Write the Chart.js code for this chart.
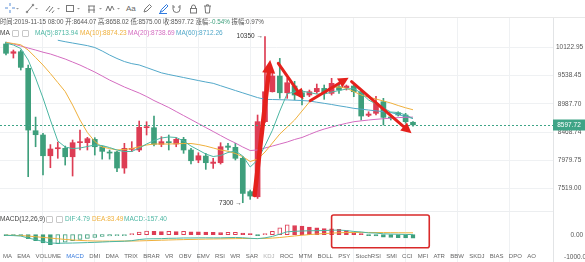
<!DOCTYPE html>
<html lang="zh-CN">
<head>
<meta charset="UTF-8">
<title>K线 MA / MACD</title>
<script src="https://cdn.jsdelivr.net/npm/chart.js"></script>
<style>
  html, body { margin: 0; padding: 0; background: #fff; }
  body { position: relative; width: 585px; height: 262px; overflow: hidden;
         font-family: "Liberation Sans", "Noto Sans CJK SC", sans-serif; color: #444; }
  canvas { position: absolute; left: 0; }
  #kline { top: 18px; }
  #macd { top: 212px; }
  .row { position: absolute; white-space: nowrap; line-height: 8px; }
  .row span { position: absolute; top: 0; }
  .ico { display: inline-block; width: 5px; height: 5px; border: 1px solid #c8c8c8; border-radius: 1px; }
  #toolbar { position: absolute; left: 0; top: 0; width: 585px; height: 17px; border-bottom: 1px solid #e8e8e8; }
  #sep { position: absolute; left: 0; top: 211px; width: 553px; height: 1px; background: #eceef0; }
  #tabs { left: 3px; top: 252px; font-size: 6px; color: #666; }
  #tabs b { font-weight: normal; margin-right: 5.3px; }
</style>
</head>
<body>
<canvas id="kline" width="585" height="194"></canvas>
<canvas id="macd" width="585" height="50"></canvas>
<div id="sep"></div>

<div id="toolbar">
  <svg width="230" height="17" fill="none" stroke="#777" stroke-width="1">
    <path d="M10 3v3M10 10v3M5 8h3M12 8h3" stroke="#5b8fd6"/>
    <path d="M16 8h3l-1.5 1.6z" fill="#999" stroke="none"/>
    <path d="M27 12l6-7"/><circle cx="27" cy="12" r="0.8"/><circle cx="33" cy="5" r="0.8"/>
    <path d="M35 8h3l-1.5 1.6z" fill="#999" stroke="none"/>
    <path d="M46 11l4-5M49 12l4-5M52 13l2-2.5"/>
    <path d="M57 8h3l-1.5 1.6z" fill="#999" stroke="none"/>
    <rect x="66.5" y="5.5" width="7" height="6"/>
    <path d="M77 8h3l-1.5 1.6z" fill="#999" stroke="none"/>
    <path d="M88 6h7M89 6v7M94 6v7M88 10h7"/>
    <path d="M99 8h3l-1.5 1.6z" fill="#999" stroke="none"/>
    <path d="M106 11l2-5 2 5 2-5 2 4"/>
    <path d="M117 8h3l-1.5 1.6z" fill="#999" stroke="none"/>
    <text x="126" y="11" font-size="8" fill="#666" stroke="none">Aa</text>
    <path d="M144 12l1-3 4.5-4.5 2 2L147 11z"/>
    <path d="M160 12.5l1.5-3 5-5 1.5 1.5-5 5z M159 13.5h8" stroke="#2f7be0"/>
    <path d="M173 5v4a3.5 3.5 0 0 0 7 0V5M173 7h2M178 7h2"/>
    <rect x="190.5" y="8.5" width="6" height="4.5"/><path d="M191.5 8.5V7a2 2 0 0 1 4 0v1.5"/>
    <path d="M204 6h7M205 6l.6 7h3.8l.6-7M206.5 6V4.8h2V6"/>
  </svg>
</div>

<div class="row" style="left:0;top:18px;font-size:6.3px;color:#555">
  时间:2019-11-15 08:00 开:8644.07 高:8658.02 低:8575.00 收:8597.72 涨幅:<span style="position:static;color:#3e9f7c">-0.54%</span> 振幅:0.97%
</div>
<div class="row" id="maLegend" style="left:0;top:29px;font-size:6.5px"></div>
<div class="row" id="macdLegend" style="left:0;top:215px;font-size:6.5px"></div>
<div class="row" id="tabs"></div>

<script>
// ---- candles (4h), oldest first ----
const opens  = [10189, 9992, 10025, 9681, 8492, 8416, 8057, 8177, 8184, 8040,
                8281, 8281, 8340, 8211, 8120, 8120, 7852, 8166, 8155, 8546,
                8546, 8253, 8299, 8258, 8340, 8155, 7985, 8052, 7929, 7940,
                8223, 8201, 8014, 7472, 7392, 8655, 9217, 9526, 9197, 9328,
                9198, 9153, 9217, 9282, 9185, 9315, 9295, 9328, 9217, 8771,
                8808, 9026, 8740, 8819, 8777, 8644.07];
const highs  = [10231, 10061, 10061, 9748, 8739, 8446, 8248, 8293, 8223, 8328,
                8504, 8375, 8369, 8223, 8155, 8132, 8270, 8299, 8667, 8654,
                8758, 8386, 8416, 8369, 8375, 8184, 8108, 8098, 8014, 8281,
                8270, 8270, 8041, 7497, 8777, 10350, 9586, 9886, 9480, 9420,
                9250, 9250, 9367, 9348, 9480, 9381, 9348, 9381, 9250, 8837,
                9128, 9090, 8777, 8837, 8808, 8658.02];
const lows   = [9956, 9893, 9647, 7710, 8211, 7738, 7857, 8014, 7901, 7721,
                8155, 8155, 8069, 8000, 8000, 7791, 7765, 8126, 8126, 8416,
                8223, 8211, 8155, 8211, 8098, 7918, 7940, 7830, 7846, 7918,
                8155, 7985, 7300, 7352, 7366, 8640, 9211, 9090, 9090, 9058,
                8963, 9121, 9185, 9071, 9153, 9185, 9250, 9121, 8685, 8746,
                8777, 8594, 8685, 8758, 8625, 8575.00];
const closes = [9992, 10025, 9701, 8504, 8421, 8057, 8172, 8194, 8040, 8281,
                8298, 8351, 8211, 8132, 8103, 7852, 8184, 8184, 8553, 8564,
                8253, 8299, 8281, 8340, 8155, 7973, 8057, 7940, 7951, 8211,
                8201, 8014, 7444, 7403, 8655, 9217, 9526, 9197, 9393, 9153,
                9121, 9217, 9282, 9185, 9381, 9250, 9328, 9217, 8758, 8795,
                8995, 8734, 8722, 8777, 8655, 8597.72];

// ---- moving averages as drawn ----
const ma5  = [10210, 10167, 10093, 9852, 9486, 9096, 8685, 8311, 8206, 8180,
              8189, 8215, 8241, 8232, 8197, 8155, 8129, 8129, 8189, 8258,
              8319, 8363, 8381, 8372, 8311, 8223, 8155, 8086, 8044, 8061,
              8112, 8138, 8052, 7869, 7985, 8230, 8500, 8850, 9180, 9211,
              9230, 9201, 9172, 9172, 9211, 9240, 9269, 9279, 9192, 9058,
              8982, 8907, 8832, 8823, 8777, 8713.94];
const ma10 = [10221, 10199, 10172, 10061, 9904, 9748, 9576, 9397, 9220, 8963,
              8685, 8460, 8302, 8206, 8180, 8155, 8163, 8180, 8211, 8241,
              8258, 8258, 8258, 8262, 8267, 8267, 8249, 8223, 8189, 8155,
              8133, 8095, 8041, 7960, 8000, 8120, 8275, 8433, 8558, 8685,
              8851, 9020, 9134, 9220, 9299, 9309, 9284, 9220, 9153, 9115,
              9077, 9039, 9001, 8954, 8911, 8874.23];
const ma20 = [10221, 10189, 10146, 10103, 10061, 10015, 9977, 9925, 9872, 9810,
              9748, 9677, 9606, 9526, 9446, 9377, 9309, 9250, 9192, 9124,
              9048, 8982, 8916, 8841, 8767, 8694, 8621, 8549, 8478, 8407,
              8337, 8275, 8206, 8146, 8155, 8189, 8223, 8258, 8293, 8337,
              8372, 8425, 8478, 8522, 8558, 8594, 8625, 8654, 8670, 8685,
              8698, 8709, 8718, 8729, 8735, 8738.69];
const ma60 = [null, null, null, null, null, null, null, 10270, 10238, 10210,
              10182, 10154, 10114, 10040, 9956, 9883, 9820, 9777, 9750, 9697,
              9643, 9590, 9556, 9526, 9496, 9466, 9436, 9407, 9381, 9334,
              9287, 9240, 9195, 9149, 9104, 9071, 9067, 9064, 9060, 9054,
              9048, 9039, 9016, 8995, 8973, 8948, 8926, 8901, 8886, 8869,
              8854, 8839, 8823, 8786, 8749, 8712.26];

// ---- MACD(12,26,9) ----
const macdHist = [-15, -20, -40, -180, -260, -360, -440, -400, -330, -270,
                  -210, -160, -120, -80, -50, -35, -20, 30, 120, 160,
                  150, 140, 150, 140, 145, 130, 125, 115, 100, 90,
                  100, 105, 70, 20, -10, 50, 150, 300, 440, 410,
                  380, 340, 300, 270, 260, 240, 180, 90, 40, -40,
                  -50, -110, -125, -135, -145, -157.40];
const dif = [-30, -40, -60, -150, -220, -300, -370, -380, -375, -370,
             -360, -350, -340, -325, -310, -300, -290, -265, -215, -185,
             -180, -175, -160, -155, -145, -145, -140, -137.5, -140, -140,
             -130, -122.5, -135, -160, -175, -140, -75, 25, 130, 150,
             165, 175, 180, 185, 200, 205, 185, 145, 122, 80,
             72, 40, 28, 20, 12, 4.79];
const dea = [-22.5, -30, -40, -60, -90, -120, -150, -180, -210, -235,
             -255, -270, -280, -285, -285, -282.5, -280, -280, -275, -265,
             -255, -245, -235, -225, -217.5, -210, -202.5, -195, -190, -185,
             -180, -175, -170, -170, -170, -165, -150, -125, -90, -55,
             -25, 5, 30, 50, 70, 85, 95, 100, 102, 100,
             97, 95, 90.5, 87.5, 84.5, 83.49];

const priceTicks = [10122.95, 9538.45, 8987.70, 8468.74, 7979.75, 7519.00];
const macdTicks = [0, -1000];
const gridIndex = [5, 12, 19, 26, 33, 40, 47, 54, 61, 68];
const lastPrice = 8597.72;
const indicatorTabs = ['MA', 'EMA', 'VOLUME', 'MACD', 'DMI', 'DMA', 'TRIX', 'BRAR', 'VR', 'OBV',
                       'EMV', 'RSI', 'WR', 'SAR', 'KDJ', 'ROC', 'MTM', 'BOLL', 'PSY', 'StochRSI',
                       'SMI', 'CCI', 'MFI', 'ATR', 'BBW', 'SKDJ', 'BIAS', 'DPO', 'AO'];

// hand drawn arrows on the price pane: [fromIndex, fromPrice, toIndex, toPrice]
const trendArrows = [[33.6, 7419, 35.7, 9852],
                     [36.8, 9784, 40.2, 9071],
                     [41.1, 9045, 46.3, 9492],
                     [46.7, 9413, 54.8, 8446]];
// red box on the MACD pane: [fromIndex, toIndex, topValue, bottomValue]
const macdBox = [44.0, 57.2, 875, -577];

const UP = '#dd3d54', DOWN = '#3e9f7c';
const C5 = '#4bb6a2', C10 = '#efb03c', C20 = '#d46cc0', C60 = '#52a8c9';
const X_MIN = -0.81, X_MAX = 73.92;
const FONT = '"Liberation Sans", "Noto Sans CJK SC", sans-serif';
Chart.defaults.font.family = FONT;

const pts = arr => arr.map((v, i) => ({ x: i, y: v }));
const candleColor = closes.map((c, i) => (c >= opens[i] ? UP : DOWN));

function xScale(gridColor) {
  return {
    type: 'linear', min: X_MIN, max: X_MAX, offset: false,
    ticks: { display: false }, border: { display: false },
    grid: { color: gridColor, drawTicks: false, offset: false },
    afterBuildTicks: s => { s.ticks = gridIndex.map(v => ({ value: v })); },
    afterFit: s => { s.height = 0; s.paddingLeft = 0; s.paddingRight = 0; }
  };
}

function drawArrow(ctx, x1, y1, x2, y2, w) {
  const a = Math.atan2(y2 - y1, x2 - x1);
  const len = w * 1.8 + 5, half = w * 0.9 + 2.5;
  const bx = x2 - Math.cos(a) * len, by = y2 - Math.sin(a) * len;
  ctx.strokeStyle = ctx.fillStyle = '#e5211c';
  ctx.lineWidth = w;
  ctx.lineCap = 'round';
  ctx.beginPath(); ctx.moveTo(x1, y1); ctx.lineTo(bx, by); ctx.stroke();
  ctx.beginPath();
  ctx.moveTo(x2, y2);
  ctx.lineTo(bx + Math.sin(a) * half, by - Math.cos(a) * half);
  ctx.lineTo(bx - Math.sin(a) * half, by + Math.cos(a) * half);
  ctx.closePath(); ctx.fill();
}

const klineMarks = {
  id: 'klineMarks',
  afterDatasetsDraw(chart) {
    const { ctx, chartArea, scales: { x, y } } = chart;
    ctx.save();
    // last price dashed line
    const py = Math.round(y.getPixelForValue(lastPrice)) + 0.5;
    ctx.strokeStyle = '#3ea486';
    ctx.lineWidth = 1;
    ctx.setLineDash([2, 2]);
    ctx.beginPath(); ctx.moveTo(chartArea.left, py); ctx.lineTo(chartArea.right, py); ctx.stroke();
    ctx.setLineDash([]);

    // highest / lowest markers
    const hi = highs.indexOf(Math.max(...highs));
    const lo = lows.indexOf(Math.min(...lows));
    ctx.font = '6.5px ' + FONT;
    ctx.fillStyle = '#333';
    ctx.textAlign = 'right';
    ctx.textBaseline = 'middle';
    ctx.fillText(highs[hi] + ' \u2192', x.getPixelForValue(hi) - 2, y.getPixelForValue(highs[hi]));
    ctx.fillText(lows[lo] + ' \u2192', x.getPixelForValue(lo) - 1, y.getPixelForValue(lows[lo]));

    trendArrows.forEach((a, k) => {
      drawArrow(ctx, x.getPixelForValue(a[0]), y.getPixelForValue(a[1]),
                x.getPixelForValue(a[2]), y.getPixelForValue(a[3]), k === 0 ? 4.5 : 3);
    });
    ctx.restore();
  },
  afterDraw(chart) {
    const { ctx, chartArea, scales: { y } } = chart;
    const py = y.getPixelForValue(lastPrice);
    ctx.save();
    ctx.fillStyle = '#3ea486';
    ctx.fillRect(chartArea.right, Math.round(py) - 5.5, 32, 11);
    ctx.fillStyle = '#fff';
    ctx.font = '6.5px ' + FONT;
    ctx.textAlign = 'center';
    ctx.textBaseline = 'middle';
    ctx.fillText(lastPrice.toFixed(2), chartArea.right + 16, py + 0.5);
    ctx.restore();
  }
};

new Chart(document.getElementById('kline'), {
  type: 'bar',
  data: {
    datasets: [
      { type: 'line', data: pts(ma5), borderColor: C5, borderWidth: 1, pointRadius: 0, order: 0 },
      { type: 'line', data: pts(ma10), borderColor: C10, borderWidth: 1, pointRadius: 0, order: 0 },
      { type: 'line', data: pts(ma20), borderColor: C20, borderWidth: 1, pointRadius: 0, order: 0 },
      { type: 'line', data: pts(ma60), borderColor: C60, borderWidth: 1, pointRadius: 0, order: 0 },
      { data: opens.map((o, i) => ({ x: i, y: [o, closes[i]] })), backgroundColor: candleColor,
        barThickness: 5, grouped: false, minBarLength: 1, borderWidth: 0, order: 1 },
      { data: lows.map((l, i) => ({ x: i, y: [l, highs[i]] })), backgroundColor: candleColor,
        barThickness: 1, grouped: false, borderWidth: 0, order: 2 }
    ]
  },
  options: {
    responsive: false, animation: false, events: [],
    layout: { padding: 0 },
    plugins: { legend: { display: false }, tooltip: { enabled: false } },
    scales: {
      x: xScale('#eff1f3'),
      y: {
        type: 'logarithmic', position: 'right', min: 7159, max: 10761, bounds: 'data',
        afterBuildTicks: s => { s.ticks = priceTicks.map(v => ({ value: v })); },
        ticks: { callback: v => Number(v).toFixed(2), color: '#555', font: { size: 6.5 },
                 padding: 3, crossAlign: 'center', autoSkip: false },
        grid: { color: '#eff1f3', drawTicks: false },
        border: { color: '#e2e4e6' },
        afterFit: s => { s.width = 32; s.paddingTop = 0; s.paddingBottom = 0; }
      }
    }
  },
  plugins: [klineMarks]
});

const macdMarks = {
  id: 'macdMarks',
  afterDatasetsDraw(chart) {
    const { ctx, scales: { x, y } } = chart;
    const x1 = x.getPixelForValue(macdBox[0]), x2 = x.getPixelForValue(macdBox[1]);
    const y1 = y.getPixelForValue(macdBox[2]), y2 = y.getPixelForValue(macdBox[3]);
    ctx.save();
    ctx.strokeStyle = '#d92a2a';
    ctx.lineWidth = 1.6;
    ctx.beginPath();
    ctx.roundRect(x1, y1, x2 - x1, y2 - y1, 2);
    ctx.stroke();
    ctx.restore();
  }
};

// hollow when the bar rises against the previous one, solid when it falls
const histColor = macdHist.map(v => (v >= 0 ? UP : DOWN));
const histFill = macdHist.map((v, i) => (v >= (i ? macdHist[i - 1] : 0) ? '#fff' : histColor[i]));

new Chart(document.getElementById('macd'), {
  type: 'bar',
  data: {
    datasets: [
      { type: 'line', data: pts(dif), borderColor: C5, borderWidth: 1, pointRadius: 0, order: 0 },
      { type: 'line', data: pts(dea), borderColor: C10, borderWidth: 1, pointRadius: 0, order: 0 },
      { data: pts(macdHist), backgroundColor: histFill, borderColor: histColor, borderWidth: 1,
        borderSkipped: false, barThickness: 4, grouped: false, minBarLength: 1, order: 1 }
    ]
  },
  options: {
    responsive: false, animation: false, events: [],
    layout: { padding: 0 },
    plugins: { legend: { display: false }, tooltip: { enabled: false } },
    scales: {
      x: xScale('#eff1f3'),
      y: {
        type: 'linear', position: 'right', min: -1213, max: 1009,
        afterBuildTicks: s => { s.ticks = macdTicks.map(v => ({ value: v })); },
        ticks: { callback: v => Number(v).toFixed(2), color: '#555', font: { size: 6.5 },
                 padding: 3, crossAlign: 'center', autoSkip: false },
        grid: { display: false },
        border: { color: '#e2e4e6' },
        afterFit: s => { s.width = 32; s.paddingTop = 0; s.paddingBottom = 0; }
      }
    }
  },
  plugins: [macdMarks]
});

// ---- legends and indicator tabs ----
const last = a => a[a.length - 1].toFixed(2);
document.getElementById('maLegend').innerHTML =
  '<span style="left:0;color:#444">MA</span>' +
  '<span class="ico" style="left:12px;top:1px"></span><span class="ico" style="left:22px;top:1px"></span>' +
  '<span style="left:35px;color:' + C5 + '">MA(5):' + last(ma5) + '</span>' +
  '<span style="left:80px;color:' + C10 + '">MA(10):' + last(ma10) + '</span>' +
  '<span style="left:128px;color:' + C20 + '">MA(20):' + last(ma20) + '</span>' +
  '<span style="left:176px;color:' + C60 + '">MA(60):' + last(ma60) + '</span>';
document.getElementById('macdLegend').innerHTML =
  '<span style="left:0;color:#444">MACD(12,26,9)</span>' +
  '<span class="ico" style="left:46px;top:1px"></span><span class="ico" style="left:56px;top:1px"></span>' +
  '<span style="left:65px;color:' + C5 + '">DIF:' + last(dif) + '</span>' +
  '<span style="left:92px;color:' + C10 + '">DEA:' + last(dea) + '</span>' +
  '<span style="left:124px;color:' + C5 + '">MACD:' + last(macdHist) + '</span>';
document.getElementById('tabs').innerHTML = indicatorTabs.map(t => {
  const col = t === 'MACD' ? '#3b7ddd' : (t === 'KDJ' ? '#b5b5b5' : '#666');
  return '<b style="color:' + col + '">' + t + '</b>';
}).join('');
</script>
</body>
</html>
